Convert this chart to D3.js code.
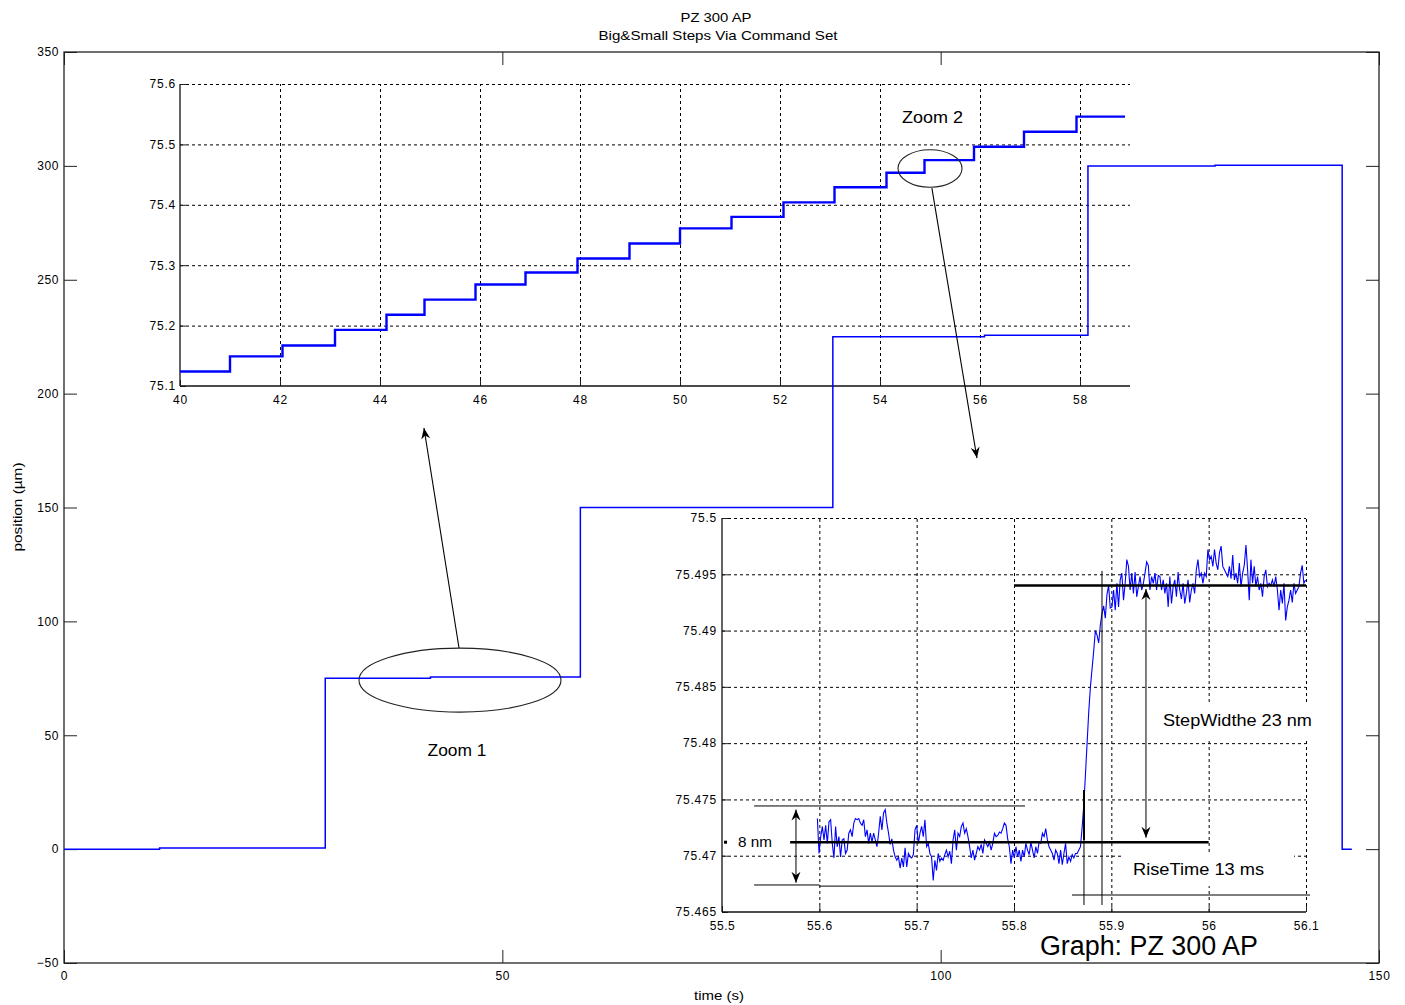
<!DOCTYPE html>
<html><head><meta charset="utf-8">
<script src="https://cdn.jsdelivr.net/npm/d3@7"></script>
<style>
body{margin:0;background:#fff;}
text{font-family:"Liberation Sans",Arial,Helvetica,sans-serif;fill:#000;}
</style></head><body>
<svg id="c" width="1405" height="1005"></svg>
<script>
// ---------------- DATA ----------------
const titleLines = ["PZ 300 AP", "Big&Small Steps Via Command Set"];
const xLabel = "time (s)";
const yLabel = "position (µm)";

// main trace: step start times (s) and held positions (µm)
const mainTimes  = [0, 10.9, 29.8, 41.8, 58.9, 87.7, 105.0, 116.8, 131.3, 145.8, 146.9];
const mainLevels = [0, 0.5, 75.0, 75.6, 150, 225, 225.6, 300, 300.3, 0, 0];
const mainXTicks = [0, 50, 100, 150];
const mainYTicks = [-50, 0, 50, 100, 150, 200, 250, 300, 350];

// Zoom 1 inset: small steps
const zoom1Times  = [40, 41.0, 42.05, 43.1, 44.13, 44.89, 45.91, 46.91, 47.95, 48.99, 50.0, 51.03, 52.07, 53.09, 54.13, 54.89, 55.88, 56.88, 57.93, 58.9];
const zoom1Levels = [75.124, 75.149, 75.167, 75.193, 75.218, 75.243, 75.268, 75.288, 75.311, 75.336, 75.361, 75.380, 75.404, 75.429, 75.453, 75.474, 75.496, 75.521, 75.546, 75.546];
const zoom1XTicks = [40, 42, 44, 46, 48, 50, 52, 54, 56, 58];
const zoom1YTicks = [75.1, 75.2, 75.3, 75.4, 75.5, 75.6];

// Zoom 2 inset: one step, sampled every 1.7 ms from 55.598 s
const zoom2Start = 55.598;
const zoom2Interval = 0.0017;
const zoom2Values = [
75.4733,75.4702,75.4717,75.4726,75.4714,75.4727,75.4711,75.4730,75.4732,75.4711,
75.4698,75.4726,75.4708,75.4717,75.4699,75.4714,75.4715,75.4702,75.4705,75.4720,
75.4723,75.4717,75.4729,75.4733,75.4732,75.4733,75.4729,75.4727,75.4732,75.4717,
75.4723,75.4711,75.4720,75.4712,75.4720,75.4714,75.4708,75.4720,75.4735,75.4723,
75.4738,75.4741,75.4729,75.4720,75.4710,75.4715,75.4705,75.4699,75.4696,75.4699,
75.4689,75.4698,75.4690,75.4707,75.4690,75.4702,75.4699,75.4698,75.4701,75.4723,
75.4727,75.4711,75.4720,75.4726,75.4717,75.4732,75.4708,75.4711,75.4702,75.4699,
75.4678,75.4696,75.4687,75.4702,75.4695,75.4698,75.4696,75.4701,75.4705,75.4699,
75.4704,75.4693,75.4714,75.4723,75.4705,75.4720,75.4717,75.4726,75.4729,75.4720,
75.4724,75.4717,75.4708,75.4698,75.4705,75.4696,75.4702,75.4708,75.4705,75.4710,
75.4702,75.4714,75.4711,75.4708,75.4712,75.4705,75.4711,75.4720,75.4717,75.4718,
75.4721,75.4720,75.4724,75.4729,75.4727,75.4715,75.4708,75.4693,75.4705,75.4698,
75.4708,75.4699,75.4705,75.4695,75.4705,75.4699,75.4711,75.4705,75.4701,75.4712,
75.4705,75.4698,75.4708,75.4702,75.4712,75.4711,75.4720,75.4717,75.4724,75.4714,
75.4708,75.4705,75.4702,75.4696,75.4705,75.4702,75.4693,75.4705,75.4692,75.4702,
75.4711,75.4693,75.4699,75.4695,75.4701,75.4698,75.4702,75.4702,75.4705,75.4708,
75.4725,75.4745,75.4772,75.4800,75.4828,75.4850,75.4866,75.4882,75.4900,75.4896,
75.4889,75.4905,75.4915,75.4922,75.4911,75.4932,75.4940,75.4920,75.4921,
75.4936,75.4918,75.4942,75.4921,75.4945,75.4951,75.4927,75.4942,75.4963,75.4957,
75.4936,75.4951,75.4933,75.4952,75.4930,75.4939,75.4948,75.4936,75.4942,75.4951,
75.4961,75.4958,75.4936,75.4948,75.4942,75.4951,75.4936,75.4949,75.4948,75.4936,
75.4945,75.4933,75.4942,75.4921,75.4948,75.4924,75.4939,75.4945,75.4930,75.4952,
75.4936,75.4928,75.4942,75.4924,75.4933,75.4945,75.4925,75.4936,75.4942,75.4933,
75.4954,75.4963,75.4948,75.4951,75.4942,75.4951,75.4948,75.4972,75.4963,75.4966,
75.4957,75.4972,75.4960,75.4954,75.4969,75.4975,75.4957,75.4954,75.4951,75.4948,
75.4957,75.4946,75.4967,75.4945,75.4951,75.4942,75.4960,75.4939,75.4951,75.4958,
75.4976,75.4954,75.4927,75.4963,75.4942,75.4957,75.4939,75.4948,75.4936,75.4942,
75.4930,75.4948,75.4954,75.4939,75.4942,75.4940,75.4945,75.4939,75.4948,75.4936,
75.4918,75.4936,75.4924,75.4942,75.4909,75.4921,75.4927,75.4936,75.4925,75.4942,
75.4933,75.4936,75.4939,75.4951,75.4958,75.4942,75.4945];
const zoom2XTicks = [55.5, 55.6, 55.7, 55.8, 55.9, 56, 56.1];
const zoom2YTicks = [75.465, 75.47, 75.475, 75.48, 75.485, 75.49, 75.495, 75.5];

// annotation texts
const noteTexts = {zoom1: "Zoom 1", zoom2: "Zoom 2", noise: "8 nm", step: "StepWidthe 23 nm", rise: "RiseTime 13 ms", graph: "Graph: PZ 300 AP"};

// ---------------- DRAW ----------------
const svg = d3.select("#c");
const BLUE = "#0000ff";

const x = d3.scaleLinear([0, 150], [64, 1379]);
const y = d3.scaleLinear([-50, 350], [963, 52]);
const x1 = d3.scaleLinear([40, 59], [180, 1130]);
const y1 = d3.scaleLinear([75.1, 75.6], [386, 84]);
const x2 = d3.scaleLinear([55.5, 56.1], [722, 1306]);
const y2 = d3.scaleLinear([75.465, 75.5], [912, 518]);

const defs = svg.append("defs");
defs.append("marker").attr("id", "ah").attr("viewBox", "-12 -6 13 12")
  .attr("refX", 0).attr("refY", 0).attr("markerWidth", 13).attr("markerHeight", 12)
  .attr("markerUnits", "userSpaceOnUse").attr("orient", "auto-start-reverse")
  .append("path").attr("d", "M0,0 L-11,-4.5 L-7.5,0 L-11,4.5 Z").attr("fill", "#000");

function txt(g, px, py, s, size, anchor, len) {
  const t = g.append("text").attr("x", px).attr("y", py).attr("dy", "0.35em")
    .attr("font-size", size).attr("text-anchor", anchor || "middle").text(s);
  if (len) t.attr("textLength", len).attr("lengthAdjust", "spacingAndGlyphs");
  return t;
}
function styleAxis(g, size, ls) {
  g.select(".domain").remove();
  g.selectAll(".tick line").attr("stroke", "#222").attr("stroke-width", 1);
  g.selectAll(".tick text").attr("font-size", size).attr("letter-spacing", ls || 0)
    .attr("font-family", "'Liberation Sans',Arial,sans-serif").attr("fill", "#000");
}

// title and axis labels
txt(svg, 716, 17, titleLines[0], 13, "middle", 71);
txt(svg, 718, 35, titleLines[1], 13, "middle", 239);
txt(svg, 719, 995, xLabel, 13, "middle", 50);
svg.append("text").attr("transform", "translate(17,507) rotate(-90)").attr("dy", "0.35em")
  .attr("font-size", 13).attr("text-anchor", "middle").attr("textLength", 89)
  .attr("lengthAdjust", "spacingAndGlyphs").text(yLabel);

// main axes
const main = svg.append("g");
main.append("g").attr("transform", "translate(0,963)")
  .call(d3.axisBottom(x).tickValues(mainXTicks).tickSize(-13).tickPadding(8).tickFormat(d3.format("d")))
  .call(g => styleAxis(g, 12, 0.6));
main.append("g").attr("transform", "translate(0,52)")
  .call(d3.axisTop(x).tickValues(mainXTicks).tickSize(-13).tickFormat(""))
  .call(g => styleAxis(g, 12));
main.append("g").attr("transform", "translate(64,0)")
  .call(d3.axisLeft(y).tickValues(mainYTicks).tickSize(-13).tickPadding(5).tickFormat(d3.format("d")))
  .call(g => styleAxis(g, 12, 0.6));
main.append("g").attr("transform", "translate(1379,0)")
  .call(d3.axisRight(y).tickValues(mainYTicks).tickSize(-13).tickFormat(""))
  .call(g => styleAxis(g, 12));
main.append("rect").attr("x", x(0)).attr("y", y(350)).attr("width", x(150) - x(0)).attr("height", y(-50) - y(350))
  .attr("fill", "none").attr("stroke", "#222").attr("stroke-width", 1.3);

// ---------- inset 1 ----------
const in1 = svg.append("g");
in1.append("g").attr("transform", `translate(0,${y1(75.1)})`)
  .call(d3.axisBottom(x1).tickValues(zoom1XTicks.slice(1)).tickSize(-(y1(75.1) - y1(75.6))).tickFormat(""))
  .call(g => { g.select(".domain").remove(); g.selectAll(".tick line").attr("stroke", "#000").attr("stroke-dasharray", "3,3"); });
in1.append("g").attr("transform", `translate(${x1(40)},0)`)
  .call(d3.axisLeft(y1).tickValues(zoom1YTicks.slice(1)).tickSize(-(x1(59) - x1(40))).tickFormat(""))
  .call(g => { g.select(".domain").remove(); g.selectAll(".tick line").attr("stroke", "#000").attr("stroke-dasharray", "3,3"); });
in1.append("g").attr("transform", `translate(0,${y1(75.1)})`)
  .call(d3.axisBottom(x1).tickValues(zoom1XTicks).tickSize(-6).tickPadding(9).tickFormat(d3.format("d")))
  .call(g => styleAxis(g, 12, 0.8));
in1.append("g").attr("transform", `translate(${x1(40)},0)`)
  .call(d3.axisLeft(y1).tickValues(zoom1YTicks).tickSize(-6).tickPadding(4).tickFormat(d3.format(".1f")))
  .call(g => styleAxis(g, 12, 0.8));
in1.append("line").attr("x1", x1(40)).attr("x2", x1(59)).attr("y1", y1(75.1)).attr("y2", y1(75.1)).attr("stroke", "#111").attr("stroke-width", 1.3);
in1.append("line").attr("x1", x1(40)).attr("x2", x1(40)).attr("y1", y1(75.1)).attr("y2", y1(75.6)).attr("stroke", "#111").attr("stroke-width", 1.3);

const step1 = d3.line().x(d => x1(d[0])).y(d => y1(d[1])).curve(d3.curveStepAfter);
in1.append("path").datum(zoom1Times.map((t, i) => [t, zoom1Levels[i]]))
  .attr("d", step1).attr("fill", "none").attr("stroke", BLUE).attr("stroke-width", 2.4);

// ---------- main trace ----------
const stepMain = d3.line().x(d => x(d[0])).y(d => y(d[1])).curve(d3.curveStepAfter);
svg.append("path").datum(mainTimes.map((t, i) => [t, mainLevels[i]]))
  .attr("d", stepMain).attr("fill", "none").attr("stroke", BLUE).attr("stroke-width", 1.5);

// ---------- inset 2 ----------
const in2 = svg.append("g");
in2.append("g").attr("transform", `translate(0,${y2(75.465)})`)
  .call(d3.axisBottom(x2).tickValues(zoom2XTicks.slice(1)).tickSize(-(y2(75.465) - y2(75.5))).tickFormat(""))
  .call(g => { g.select(".domain").remove(); g.selectAll(".tick line").attr("stroke", "#000").attr("stroke-dasharray", "3,3"); });
in2.append("g").attr("transform", `translate(${x2(55.5)},0)`)
  .call(d3.axisLeft(y2).tickValues(zoom2YTicks.slice(1)).tickSize(-(x2(56.1) - x2(55.5))).tickFormat(""))
  .call(g => { g.select(".domain").remove(); g.selectAll(".tick line").attr("stroke", "#000").attr("stroke-dasharray", "3,3"); });
in2.append("g").attr("transform", `translate(0,${y2(75.465)})`)
  .call(d3.axisBottom(x2).tickValues(zoom2XTicks).tickSize(-6).tickPadding(9).tickFormat(d => String(+d.toFixed(1))))
  .call(g => styleAxis(g, 12, 0.6));
in2.append("g").attr("transform", `translate(${x2(55.5)},0)`)
  .call(d3.axisLeft(y2).tickValues(zoom2YTicks).tickSize(-6).tickPadding(5).tickFormat(d => String(+d.toFixed(3))))
  .call(g => styleAxis(g, 12, 0.8));
in2.append("line").attr("x1", x2(55.5)).attr("x2", x2(56.1)).attr("y1", y2(75.465)).attr("y2", y2(75.465)).attr("stroke", "#111").attr("stroke-width", 1.3);
in2.append("line").attr("x1", x2(55.5)).attr("x2", x2(55.5)).attr("y1", y2(75.465)).attr("y2", y2(75.5)).attr("stroke", "#111").attr("stroke-width", 1.3);

// white text boxes (hide grid behind annotation text)
function box(ax, ay, bx, by) {
  in2.append("rect").attr("x", Math.min(ax, bx)).attr("y", Math.min(ay, by))
    .attr("width", Math.abs(bx - ax)).attr("height", Math.abs(by - ay)).attr("fill", "#fff");
}
box(x2(55.936), y2(75.4836), x2(56.1103), y2(75.4802));
box(x2(55.9126), y2(75.4703), x2(56.0877), y2(75.4673));

const trace2 = zoom2Values.map((v, i) => [zoom2Start + i * zoom2Interval, v]);
in2.append("path").datum(trace2)
  .attr("d", d3.line().x(d => x2(d[0])).y(d => y2(d[1])))
  .attr("fill", "none").attr("stroke", BLUE).attr("stroke-width", 1.1);

// annotation lines in inset 2 (data units of the inset)
function seg(g, ax, ay, bx, by, w, marker) {
  const l = g.append("line").attr("x1", ax).attr("y1", ay).attr("x2", bx).attr("y2", by)
    .attr("stroke", "#000").attr("stroke-width", w);
  if (marker === "both") l.attr("marker-start", "url(#ah)").attr("marker-end", "url(#ah)");
  if (marker === "end") l.attr("marker-end", "url(#ah)");
  return l;
}
seg(in2, x2(55.8), y2(75.494), x2(56.1), y2(75.494), 2.6);
seg(in2, x2(55.57), y2(75.4712), x2(56.0), y2(75.4712), 2.6);
seg(in2, x2(55.533), y2(75.47442), x2(55.8113), y2(75.47442), 1);
seg(in2, x2(55.533), y2(75.4674), x2(55.6), y2(75.4674), 1);
seg(in2, x2(55.6), y2(75.4673), x2(55.799), y2(75.4673), 1);
seg(in2, x2(55.576), y2(75.4741), x2(55.576), y2(75.4676), 1, "both");
seg(in2, x2(55.9356), y2(75.4937), x2(55.9356), y2(75.4716), 1, "both");
seg(in2, x2(55.8719), y2(75.47584), x2(55.8719), y2(75.46562), 1);
seg(in2, x2(55.8719), y2(75.47584), x2(55.8719), y2(75.4714), 2);
seg(in2, x2(55.8904), y2(75.4953), x2(55.8904), y2(75.46562), 1);
seg(in2, x2(55.8596), y2(75.46651), x2(56.1041), y2(75.46651), 1);
in2.append("rect").attr("x", x2(55.5) + 2).attr("y", y2(75.4712) - 1.5).attr("width", 3).attr("height", 3).attr("fill", "#000");
txt(in2, x2(55.534), y2(75.4712), noteTexts.noise, 14, "middle", 34);
txt(in2, x2(56.0296), y2(75.48206), noteTexts.step, 17, "middle", 149);
txt(in2, x2(55.9896), y2(75.46882), noteTexts.rise, 17, "middle", 131);

// ---------- zoom callouts ----------
const ann = svg.append("g").attr("fill", "none");
ann.append("ellipse").attr("cx", x(45.17)).attr("cy", y(74.2)).attr("rx", x(11.52) - x(0)).attr("ry", y(0) - y(14.05))
  .attr("fill", "none").attr("stroke", "#222").attr("stroke-width", 1.1);
seg(ann, x(45.06), y(88.3), x(41.06), y(184.9), 1.1, "end");
txt(svg, x(44.83), y(43.5), noteTexts.zoom1, 17, "middle", 59);

ann.append("ellipse").attr("cx", x1(55.0)).attr("cy", y1(75.4601)).attr("rx", x1(40.64) - x1(40)).attr("ry", y1(75.1) - y1(75.131))
  .attr("fill", "none").attr("stroke", "#222").attr("stroke-width", 1.1);
seg(ann, x(99.0), y(290.2), x(104.14), y(171.7), 1.1, "end");
txt(svg, x1(55.05), y1(75.5454), noteTexts.zoom2, 17, "middle", 61);

txt(svg, x(123.76), y(-42.2), noteTexts.graph, 27, "middle", 218);
</script>
</body></html>
